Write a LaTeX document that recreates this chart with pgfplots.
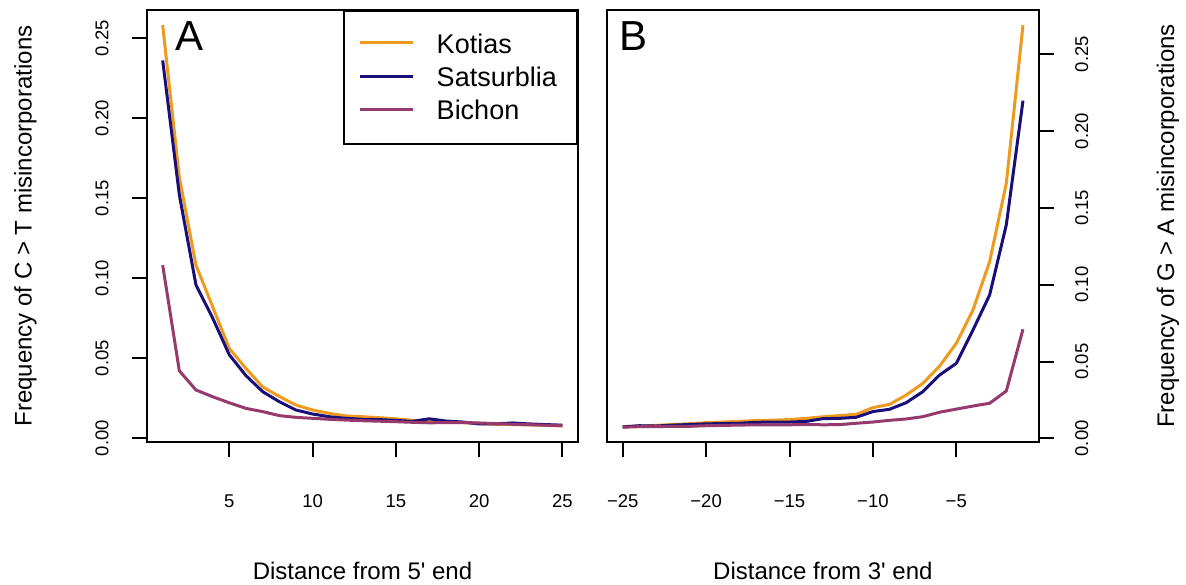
\documentclass[border=0pt]{standalone}
\usepackage{fontspec}
\setmainfont{Liberation Sans}[Ligatures=TeXOff]
\usepackage{pgfplots}
\usepackage{pgfplotstable}
\pgfplotsset{compat=1.18}

\definecolor{kotias}{HTML}{EE9A1E}
\definecolor{satsurblia}{HTML}{1A0F78}
\definecolor{bichon}{HTML}{963A6E}

% distance from 5' end
\pgfplotstableread{
x k s b
1 0.258 0.236 0.108
2 0.163 0.152 0.042
3 0.108 0.0956 0.030
4 0.082 0.075 0.0258
5 0.056 0.052 0.022
6 0.0435 0.039 0.0185
7 0.032 0.029 0.0165
8 0.026 0.0227 0.014
9 0.0206 0.0175 0.0129
10 0.0175 0.015 0.0123
11 0.0154 0.0133 0.0117
12 0.0138 0.0123 0.0112
13 0.0133 0.0117 0.0108
14 0.0127 0.0115 0.0105
15 0.0120 0.0110 0.0102
16 0.0110 0.0104 0.0098
17 0.0104 0.0120 0.0095
18 0.0100 0.0106 0.0096
19 0.0096 0.0100 0.0097
20 0.0090 0.0088 0.0094
21 0.0086 0.0088 0.0090
22 0.0084 0.0094 0.0086
23 0.0082 0.0088 0.0083
24 0.0079 0.0084 0.0080
25 0.0075 0.0080 0.0078
}\fiveprime

% distance from 3' end
\pgfplotstableread{
x k s b
-25 0.0076 0.0074 0.0072
-24 0.0080 0.0082 0.0076
-23 0.0084 0.0080 0.0076
-22 0.0090 0.0086 0.0078
-21 0.0095 0.0090 0.0078
-20 0.0102 0.0094 0.0082
-19 0.0106 0.0096 0.0084
-18 0.0110 0.0098 0.0086
-17 0.0116 0.0104 0.0088
-16 0.0118 0.0106 0.0088
-15 0.0122 0.0106 0.0088
-14 0.0130 0.0110 0.0090
-13 0.0140 0.0128 0.0088
-12 0.0148 0.0130 0.0089
-11 0.0156 0.0137 0.0098
-10 0.0200 0.0174 0.0106
-9 0.0221 0.0189 0.0117
-8 0.0282 0.0232 0.0126
-7 0.0358 0.0304 0.0141
-6 0.0470 0.0412 0.0170
-5 0.0618 0.0488 0.0190
-4 0.0835 0.0705 0.0210
-3 0.1150 0.0933 0.0228
-2 0.1660 0.1390 0.0308
-1 0.2690 0.2198 0.0710
}\threeprime

\pgfplotsset{
  rpanel/.style={
    scale only axis, width=431.6pt, height=432pt,
    anchor=south west,
    axis line style={line width=2pt},
    every tick/.style={line width=2pt, black},
    tick align=outside, major tick length=15pt,
    xtick pos=bottom,
    xticklabel style={font=\fontsize{18.5}{22}\selectfont, inner sep=0pt, anchor=base, yshift=-50pt},
    yticklabel style={font=\fontsize{18.5}{22}\selectfont, inner sep=0pt, rotate=90},
    ytick={0,0.05,0.1,0.15,0.2,0.25},
    yticklabels={0.00,0.05,0.10,0.15,0.20,0.25},
    label style={font=\fontsize{24}{28}\selectfont},
    xlabel style={at={(axis description cs:0.5,0)}, anchor=base, yshift=-137pt},
    every axis plot/.append style={line width=3pt, no markers, line join=round},
  },
}

\begin{document}
\begin{tikzpicture}[x=1pt,y=1pt]
\path[use as bounding box] (0,0) rectangle (1186,584);

\begin{axis}[rpanel, at={(146.7pt,142pt)},
  xmin=0.04, xmax=25.96, ymin=-0.0025, ymax=0.2675,
  xtick={5,10,15,20,25},
  xticklabels={5,10,15,20,25},
  ytick pos=left,
  yticklabel style={anchor=south},
  yticklabel shift=23pt,
  xlabel={Distance from 5' end},
  ylabel={Frequency of C > T misincorporations},
  ylabel style={at={(axis description cs:-0.2665,0.5)}, anchor=base},
  legend style={at={(rel axis cs:1,1)}, anchor=north east, draw=black, line width=2pt,
    font=\fontsize{27}{31}\selectfont, inner xsep=14.5pt, inner ysep=16.5pt,
    row sep=0pt, column sep=0pt,
    nodes={inner sep=0pt, minimum height=33.3pt},
    /tikz/every odd column/.append style={column sep=22.4pt}},
  legend cell align=left,
  legend image code/.code={\draw[#1] (0pt,1.3pt) -- (53pt,1.3pt);},
]
\addplot[kotias] table[x=x, y=k] {\fiveprime};
\addplot[satsurblia] table[x=x, y=s] {\fiveprime};
\addplot[bichon] table[x=x, y=b] {\fiveprime};
\legend{Kotias, Satsurblia\hspace*{6pt}, Bichon}
\node[anchor=base west, inner sep=0pt, font=\fontsize{42}{46}\selectfont] at (axis description cs:0.0656,0.907) {A};
\end{axis}

\begin{axis}[rpanel, at={(606.7pt,142pt)}, width=432.3pt,
  xmin=-25.96, xmax=-0.04, ymin=-0.0024, ymax=0.2788,
  xtick={-25,-20,-15,-10,-5},
  xticklabels={−25,−20,−15,−10,−5},
  ytick pos=right,
  yticklabel pos=right,
  yticklabel style={anchor=north},
  yticklabel shift=21pt,
  xlabel={Distance from 3' end},
  ylabel={Frequency of G > A misincorporations},
  ylabel style={at={(axis description cs:1.3123,0.5)}, anchor=base},
]
\addplot[kotias] table[x=x, y=k] {\threeprime};
\addplot[satsurblia] table[x=x, y=s] {\threeprime};
\addplot[bichon] table[x=x, y=b] {\threeprime};
\node[anchor=base west, inner sep=0pt, font=\fontsize{42}{46}\selectfont] at (axis description cs:0.0296,0.907) {B};
\end{axis}
\end{tikzpicture}
\end{document}
